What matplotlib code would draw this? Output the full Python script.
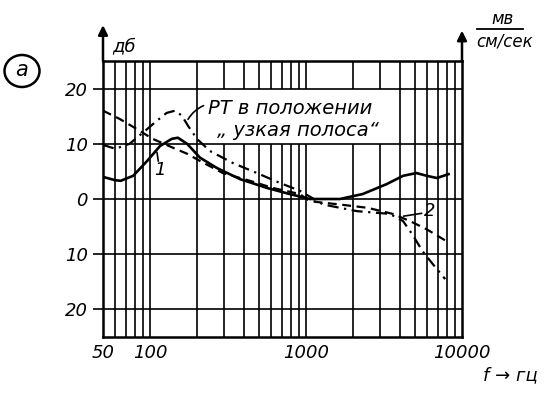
import numpy as np
import matplotlib
matplotlib.use('Agg')
import matplotlib.pyplot as plt
from matplotlib.patches import Ellipse, Rectangle
from matplotlib.lines import Line2D

# curve 1 (solid)
freq_1 = [50, 60, 65, 78, 96, 116, 138, 151, 173, 209, 269, 378, 563, 786,
          1060, 1650, 2310, 3290, 4190, 5100, 5950, 6900, 8200]
db_1 = [4.0, 3.4, 3.3, 4.2, 6.9, 9.6, 10.9, 11.1, 10.0, 7.5, 5.6, 3.6, 2.0,
        0.9, 0.0, 0.0, 0.9, 2.7, 4.2, 4.7, 4.2, 3.8, 4.5]

# curve 2 (dashed)
freq_2 = [50, 64, 82, 104, 140, 173, 209, 293, 437, 613, 912, 1060, 1650,
          2490, 3600, 4640, 5950, 7800]
db_2 = [16.0, 14.5, 12.7, 10.9, 9.3, 8.2, 6.9, 4.7, 3.3, 2.0, 0.9, -0.4,
        -1.0, -1.6, -2.7, -4.0, -5.5, -7.5]

# RT narrow band (dash-dot)
freq_rt = [50, 60, 74, 90, 111, 128, 145, 160, 175, 200, 242, 341, 485, 681,
           912, 1290, 2120, 3450, 4190, 4800, 5600, 6500, 7800]
db_rt = [9.8, 9.1, 10.0, 12.0, 14.2, 15.6, 16.0, 15.1, 13.3, 10.9, 8.7, 6.5,
         4.7, 2.9, 1.5, -1.0, -2.2, -2.7, -4.0, -6.4, -9.5, -11.8, -14.5]

y_ticks = [20, 10, 0, -10, -20]
y_tick_labels = ['20', '10', '0', '10', '20']
x_ticks = [50, 100, 1000, 10000]
x_tick_labels = ['50', '100', '1000', '10000']

W, H = 560, 398


def px(x, y):
    return x / W, 1 - y / H


fig = plt.figure(figsize=(5.6, 3.98), dpi=100)
ax = fig.add_axes([103 / W, (H - 337) / H, (462 - 103) / W, (337 - 61) / H])
ax.set_xscale('log')
ax.set_xlim(50, 10000)
ax.set_ylim(-25, 25)

# grid
minor = [m * d for d in (10, 100, 1000) for m in range(1, 10)
         if 50 < m * d < 10000]
for f in minor:
    ax.axvline(f, color='black', lw=1.2, zorder=1)
for v in y_ticks:
    ax.axhline(v, color='black', lw=1.2, zorder=2.5)

# blank field behind the caption
ax.add_patch(Rectangle((225, 10), 3300 - 225, 10, facecolor='white',
                       edgecolor='none', zorder=2))

for s in ax.spines.values():
    s.set_linewidth(1.8)

ax.plot(freq_1, db_1, color='black', lw=1.9, zorder=3)
ax.plot(freq_2, db_2, color='black', lw=1.6, ls=(0, (4, 2.5)), zorder=3)
ax.plot(freq_rt, db_rt, color='black', lw=1.6, ls=(0, (5, 2.5, 1, 2.5)),
        zorder=3)

ax.set_xticks(x_ticks)
ax.set_xticklabels(x_tick_labels, fontsize=13, style='italic')
ax.set_xticks([], minor=True)
ax.set_yticks(y_ticks)
ax.set_yticklabels(y_tick_labels, fontsize=13, style='italic')
ax.tick_params(axis='x', length=0, pad=5)
ax.tick_params(axis='y', length=7, width=1.2, pad=4)

# axis arrows
ax.annotate('', xy=(0, 1.14), xytext=(0, 0.99), xycoords='axes fraction',
            arrowprops=dict(arrowstyle='-|>', color='black', lw=1.8,
                            mutation_scale=14), annotation_clip=False)
ax.annotate('', xy=(1, 1.12), xytext=(1, 0.99), xycoords='axes fraction',
            arrowprops=dict(arrowstyle='-|>', color='black', lw=1.8,
                            mutation_scale=14), annotation_clip=False)

# annotations
ax.text(235, 16.4, 'РТ в положении', fontsize=14, style='italic',
        va='center', ha='left', zorder=4)
ax.text(270, 12.5, '„ узкая полоса“', fontsize=14, style='italic',
        va='center', ha='left', zorder=4)
ax.annotate('', xy=(172, 14.0), xytext=(229, 17.1),
            arrowprops=dict(arrowstyle='-', color='black', lw=1.2,
                            connectionstyle='arc3,rad=0.2'), zorder=4)
ax.text(115, 5.3, '1', fontsize=13, style='italic', ha='center',
        va='center')
ax.plot([111, 113], [8.4, 6.9], color='black', lw=1.2)
ax.text(6200, -2.1, '2', fontsize=13, style='italic', ha='center',
        va='center')
ax.plot([4240, 5500], [-3.1, -2.6], color='black', lw=1.2)

# labels around the frame
fig.text(*px(124, 46), 'дб', fontsize=13, style='italic', ha='center',
         va='center')
fig.text(*px(502, 19), 'мв', fontsize=12, style='italic', ha='center',
         va='center')
fig.add_artist(Line2D([477 / W, 523 / W], [1 - 29 / H, 1 - 29 / H],
                      color='black', lw=1.3))
fig.text(*px(505, 41), 'см/сек', fontsize=12, style='italic', ha='center',
         va='center')
fig.text(*px(510, 375), 'f → гц', fontsize=13, style='italic', ha='center',
         va='center')
fig.add_artist(Ellipse(px(22, 71), 35 / W, 32 / H, fill=False, lw=1.8,
                       color='black', transform=fig.transFigure))
fig.text(*px(22, 70), 'a', fontsize=15, style='italic', ha='center',
         va='center')

plt.savefig('out.png', dpi=100)
plt.close(fig)
